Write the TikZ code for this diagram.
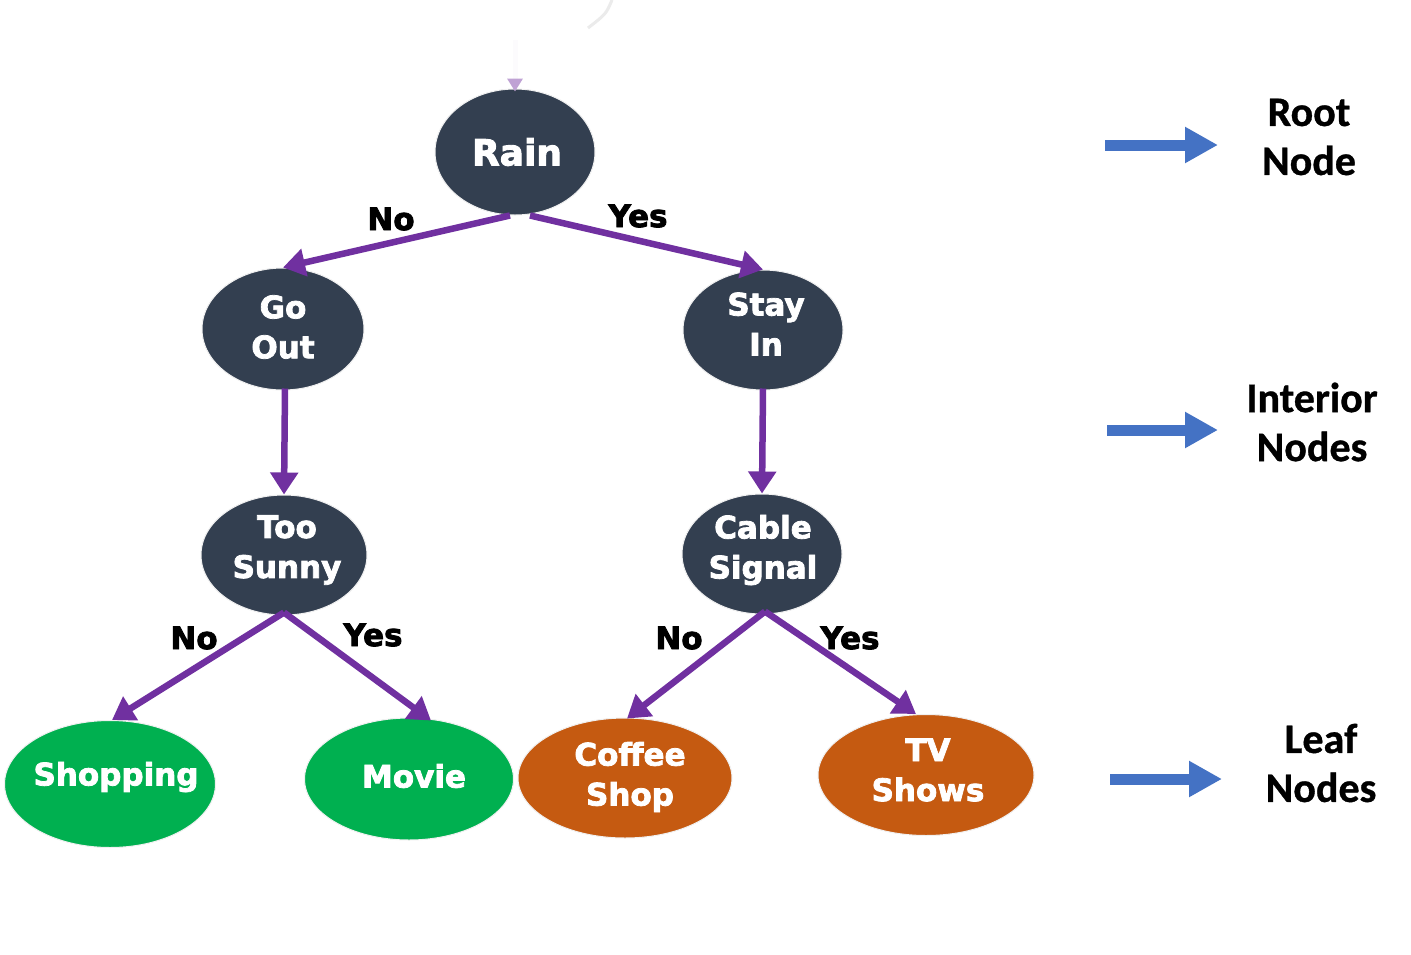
\documentclass[tikz,border=0pt]{standalone}
\usepackage{fontspec}
\setmainfont{DejaVu Sans}[BoldFont={DejaVu Sans Bold}, BoldFeatures={FakeBold=2.5}]
\newfontfamily\carl{Carlito}[BoldFeatures={FakeBold=0.8}]
\usetikzlibrary{shapes.geometric,arrows.meta}
\definecolor{dk}{RGB}{51,63,80}
\definecolor{gr}{RGB}{0,176,80}
\definecolor{orng}{RGB}{197,90,17}
\definecolor{purp}{RGB}{112,48,160}
\definecolor{blu}{RGB}{68,114,196}
\tikzset{
  ell/.style={ellipse, inner sep=0pt, draw=black!6, line width=1pt},
  darkell/.style={ell, fill=dk, minimum width=162pt, minimum height=122pt},
  leafg/.style={ell, fill=gr, minimum width=210pt, minimum height=124pt},
  leafo/.style={ell, fill=orng, minimum width=214pt, minimum height=120pt},
  ntext/.style={text=white, font=\bfseries\fontsize{31}{40}\selectfont, align=center, inner sep=0pt},
  elab/.style={text=black, font=\bfseries\fontsize{31}{34}\selectfont, inner sep=0pt},
  rlab/.style={text=black, font=\carl\bfseries\fontsize{42}{49}\selectfont, align=center, inner sep=0pt},
  parrow/.style={draw=purp, line width=6.5pt, -{Triangle[length=22pt,width=27pt]}},
  barrow/.style={draw=blu, line width=11pt, -{Triangle[length=33pt,width=34pt]}}
}
\begin{document}
\begin{tikzpicture}[x=1pt,y=-1pt]
\useasboundingbox[fill=white] (0,0) rectangle (1411,954);
% faint remnants at top
\draw[black!8, line width=3pt] (612,0) .. controls (606,14) .. (588,28);
% nodes
\node[darkell, minimum width=160pt, minimum height=126pt] (rain) at (515,152) {};
\node[darkell] (goout) at (283,329) {};
\node[darkell, minimum width=160pt, minimum height=120pt] (stay) at (763,330) {};
\node[darkell, minimum width=166pt, minimum height=120pt] (too) at (284,555) {};
\node[darkell, minimum width=160pt, minimum height=120pt] (cable) at (762,554) {};
\node[leafg, minimum width=211pt, minimum height=127pt] (shop) at (110,784) {};
\node[leafg, minimum width=209pt, minimum height=122pt] (movie) at (409,779) {};
\node[leafo] (coffee) at (625,778) {};
\node[leafo, minimum width=216pt, minimum height=121pt] (tv) at (926,775) {};
% node texts
\node[ntext, font=\bfseries\fontsize{36}{40}\selectfont] (rainT) at (517,152) {Rain};
\node[ntext] (gooutT) at (283,327) {Go\\Out};
\node[ntext] (stayT) at (766,324) {Stay\\In};
\node[ntext] (tooT) at (287,550) {Too\\Sunny};
\node[ntext] (cableT) at (763,550) {Cable\\Signal};
\node[ntext] (shopT) at (116,777) {Shopping};
\node[ntext] (movieT) at (414,776) {Movie};
\node[ntext] (coffeeT) at (630,777) {Coffee\\Shop};
\node[ntext] (tvT) at (928,770) {TV\\Shows};
% faint incoming arrow
\coordinate (topin) at (515,40);
\draw[draw=purp!2, line width=5pt, -{Triangle[length=13pt,width=15pt,color=purp!45]}] (topin) -- ([yshift=-3pt]rain.north);
% purple connectors
\draw[parrow] ([xshift=-5pt]rain.south) -- (goout.north);
\draw[parrow] ([xshift=15pt]rain.south) -- (stay.north);
\draw[parrow] ([xshift=2pt,yshift=2pt]goout.south) -- (too.north);
\draw[parrow] ([yshift=2pt]stay.south) -- (cable.north);
\draw[parrow] ([yshift=3pt]too.south) -- ([xshift=2pt]shop.north);
\draw[parrow] ([yshift=3pt]too.south) -- ([xshift=22pt,yshift=-3pt]movie.north);
\draw[parrow] ([xshift=3pt,yshift=3pt]cable.south) -- ([xshift=2pt,yshift=-1pt]coffee.north);
\draw[parrow] ([xshift=3pt,yshift=3pt]cable.south) -- ([xshift=-10pt]tv.north);
% edge labels
\node[elab] (l1) at (391,219) {No};
\node[elab] (l2) at (638,216) {Yes};
\node[elab] (l3) at (194,638) {No};
\node[elab] (l4) at (373,635) {Yes};
\node[elab] (l5) at (679,638) {No};
\node[elab] (l6) at (850,638) {Yes};
% right side legend
\node[rlab] (rootL) at (1309,137) {Root\\Node};
\node[rlab] (intL) at (1312,422) {Interior\\Nodes};
\node[rlab] (leafL) at (1321,763) {Leaf\\Nodes};
\coordinate (a1) at (1105,145); \coordinate (b1) at (1218,145);
\coordinate (a2) at (1107,430); \coordinate (b2) at (1218,430);
\coordinate (a3) at (1110,779); \coordinate (b3) at (1222,779);
\draw[barrow] (a1) -- (b1);
\draw[barrow] (a2) -- (b2);
\draw[barrow] (a3) -- (b3);
\end{tikzpicture}
\end{document}
